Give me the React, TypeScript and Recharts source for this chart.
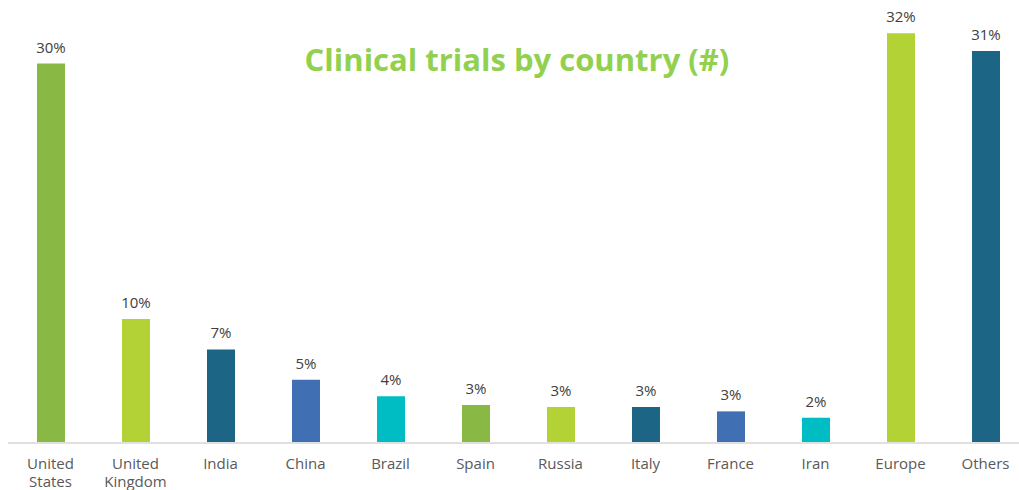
import React from "react";
import { BarChart, Bar, XAxis, YAxis, Cell, LabelList } from "recharts";

const categories = ["United States", "United Kingdom", "India", "China", "Brazil", "Spain", "Russia", "Italy", "France", "Iran", "Europe", "Others"];
const shares = [30, 9.8, 7.4, 5.0, 3.7, 3.0, 2.85, 2.85, 2.5, 2.0, 32.4, 31.0];
const labels = ["30%", "10%", "7%", "5%", "4%", "3%", "3%", "3%", "3%", "2%", "32%", "31%"];
const colors = ["#8AB844", "#B2D235", "#1C6584", "#416FB4", "#00BDC4", "#8AB844", "#B2D235", "#1C6584", "#416FB4", "#00BDC4", "#B2D235", "#1C6584"];

const data = categories.map((c, i) => ({ name: c, value: shares[i], label: labels[i] }));

const FONT = "'Open Sans', 'Noto Sans', sans-serif";

const Tick = (props: any) => {
  const { x, y, payload } = props;
  const words = String(payload.value).split(" ");
  return (
    <g transform={`translate(${x},${y})`}>
      {words.map((w: string, i: number) => (
        <text key={i} x={0} y={i * 18} dy={18} textAnchor="middle" fill="#595959" fontSize={15} fontFamily={FONT}>
          {w}
        </text>
      ))}
    </g>
  );
};

export default function App() {
  return (
    <div style={{ position: "fixed", left: 0, top: 0, width: 1019, height: 490, overflow: "hidden", background: "#fff" }}>
      <div style={{ position: "absolute", left: 8, top: 0, width: 1020, height: 490 }}>
        <BarChart width={1020} height={490} data={data} margin={{ top: 13, right: 0, bottom: 0, left: 0 }} barCategoryGap={0}>
          <XAxis
            dataKey="name"
            interval={0}
            tickLine={false}
            axisLine={{ stroke: "#E0E0E0", strokeWidth: 2 }}
            height={47}
            tick={<Tick />}
          />
          <YAxis hide domain={[0, 34]} />
          <Bar dataKey="value" barSize={28} isAnimationActive={false}>
            {data.map((d, i) => (
              <Cell key={i} fill={colors[i]} />
            ))}
            <LabelList dataKey="label" position="top" offset={11} fill="#404040" fontSize={15} fontFamily={FONT} />
          </Bar>
          <text x={509} y={71} textAnchor="middle" fill="#92D050" fontSize={31} fontWeight="bold" fontFamily={FONT}>
            Clinical trials by country (#)
          </text>
        </BarChart>
      </div>
    </div>
  );
}
